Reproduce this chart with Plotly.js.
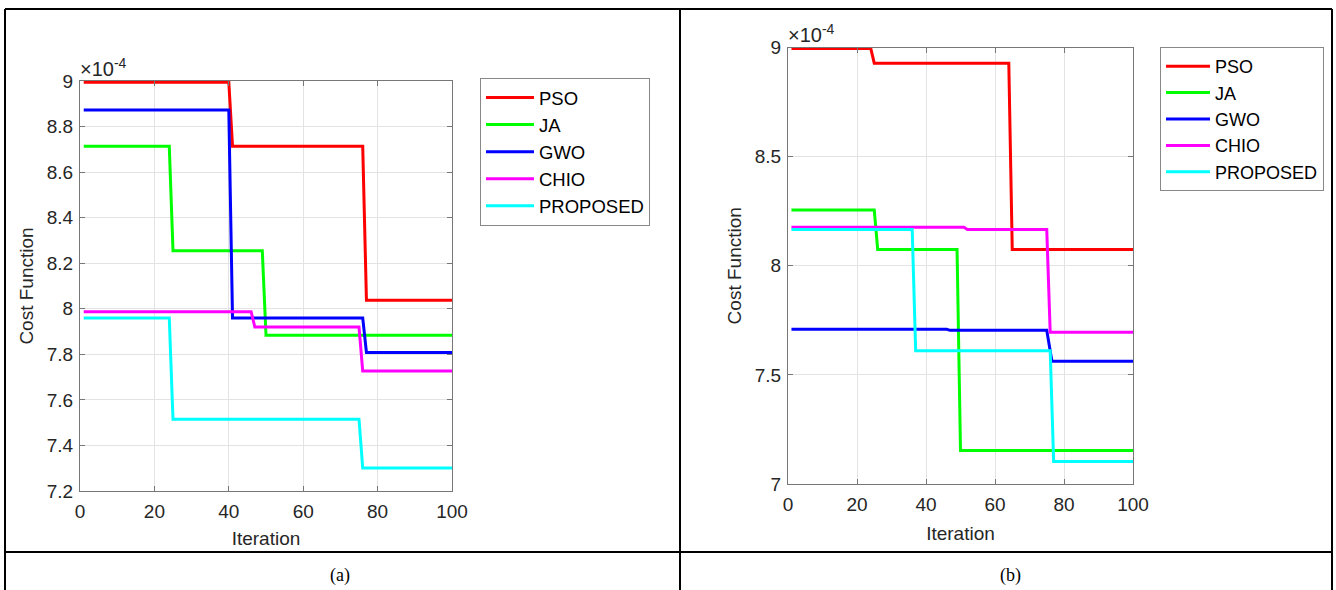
<!DOCTYPE html>
<html>
<head>
<meta charset="utf-8">
<script src="https://cdn.plot.ly/plotly-3.0.1.min.js"></script>
<style>html,body{margin:0;padding:0;background:#fff;}#chart{width:1336px;height:590px;}</style>
</head>
<body>
<div id="chart"></div>
<script>
// ---- Data (cost values in units of 1e-4) ----
const seriesNames = ["PSO", "JA", "GWO", "CHIO", "PROPOSED"];
const seriesColors = ["#ff0000", "#00ff00", "#0000ff", "#ff00ff", "#00ffff"];

// Panel (a): breakpoints (iteration) and cost values
const psoA_x = [1, 40, 41, 76, 77, 100];
const psoA_y = [8.995, 8.995, 8.713, 8.713, 8.037, 8.037];
const jaA_x = [1, 24, 25, 49, 50, 100];
const jaA_y = [8.713, 8.713, 8.255, 8.255, 7.884, 7.884];
const gwoA_x = [1, 40, 41, 76, 77, 100];
const gwoA_y = [8.873, 8.873, 7.960, 7.960, 7.808, 7.808];
const chioA_x = [1, 46, 47, 75, 76, 100];
const chioA_y = [7.987, 7.987, 7.920, 7.920, 7.727, 7.727];
const propA_x = [1, 24, 25, 75, 76, 100];
const propA_y = [7.960, 7.960, 7.515, 7.515, 7.301, 7.301];

// Panel (b)
const psoB_x = [1, 24, 25, 64, 65, 100];
const psoB_y = [8.995, 8.995, 8.928, 8.928, 8.075, 8.075];
const jaB_x = [1, 25, 26, 49, 50, 100];
const jaB_y = [8.255, 8.255, 8.075, 8.075, 7.153, 7.153];
const gwoB_x = [1, 46, 47, 75, 76.5, 100];
const gwoB_y = [7.709, 7.709, 7.704, 7.704, 7.562, 7.562];
const chioB_x = [1, 51, 52, 75, 76, 100];
const chioB_y = [8.176, 8.176, 8.166, 8.166, 7.695, 7.695];
const propB_x = [1, 36, 37, 76, 77, 100];
const propB_y = [8.166, 8.166, 7.611, 7.611, 7.103, 7.103];

// Ticks
const xTicks = [0, 20, 40, 60, 80, 100];
const yTicksA = [7.2, 7.4, 7.6, 7.8, 8, 8.2, 8.4, 8.6, 8.8, 9];
const yTicksB = [7, 7.5, 8, 8.5, 9];

const panelA = [[psoA_x, psoA_y], [jaA_x, jaA_y], [gwoA_x, gwoA_y], [chioA_x, chioA_y], [propA_x, propA_y]];
const panelB = [[psoB_x, psoB_y], [jaB_x, jaB_y], [gwoB_x, gwoB_y], [chioB_x, chioB_y], [propB_x, propB_y]];

const W = 1336, H = 590;
const px = v => v / W;
const py = v => 1 - v / H;

const traces = [];
panelA.forEach((s, i) => traces.push({
  x: s[0], y: s[1], type: "scatter", mode: "lines", name: seriesNames[i],
  line: {color: seriesColors[i], width: 3}, xaxis: "x", yaxis: "y", legend: "legend"
}));
panelB.forEach((s, i) => traces.push({
  x: s[0], y: s[1], type: "scatter", mode: "lines", name: seriesNames[i],
  line: {color: seriesColors[i], width: 3}, xaxis: "x2", yaxis: "y2", legend: "legend2"
}));

const SANS = "Liberation Sans, Arial, sans-serif";
function makeAxis(extra) {
  return Object.assign({
    showline: true, linecolor: "#777777", linewidth: 1, mirror: "ticks",
    ticks: "inside", ticklen: 5, tickcolor: "#777777",
    showgrid: true, gridcolor: "#e3e3e3", gridwidth: 1,
    zeroline: false, fixedrange: true,
    tickfont: {family: SANS, size: 19, color: "#262626"}
  }, extra);
}

const legendCommon = {
  xanchor: "left", yanchor: "top", bgcolor: "#ffffff",
  bordercolor: "#888888", borderwidth: 1,
  tracegroupgap: 0
};

const borderLine = {type: "line", xref: "paper", yref: "paper", line: {color: "#000", width: 2}};
const shapes = [
  Object.assign({}, borderLine, {x0: px(5), x1: px(1332), y0: py(9), y1: py(9)}),
  Object.assign({}, borderLine, {x0: px(5), x1: px(5), y0: py(9), y1: py(590)}),
  Object.assign({}, borderLine, {x0: px(1332), x1: px(1332), y0: py(9), y1: py(590)}),
  Object.assign({}, borderLine, {x0: px(680), x1: px(680), y0: py(9), y1: py(590)}),
  Object.assign({}, borderLine, {x0: px(5), x1: px(1332), y0: py(552), y1: py(552)})
];

const annFont = {family: SANS, size: 20, color: "#262626"};
const SERIF = "Liberation Serif, Times New Roman, serif";
const annotations = [
  {xref: "paper", yref: "paper", x: px(78), y: py(68), xanchor: "left", yanchor: "middle",
   text: "×10<sup>-4</sup>", showarrow: false, font: annFont},
  {xref: "paper", yref: "paper", x: px(786), y: py(34), xanchor: "left", yanchor: "middle",
   text: "×10<sup>-4</sup>", showarrow: false, font: annFont},
  {xref: "paper", yref: "paper", x: px(340), y: py(575), xanchor: "center", yanchor: "middle",
   text: "(a)", showarrow: false, font: {family: SERIF, size: 18, color: "#000"}},
  {xref: "paper", yref: "paper", x: px(1010), y: py(575), xanchor: "center", yanchor: "middle",
   text: "(b)", showarrow: false, font: {family: SERIF, size: 18, color: "#000"}}
];

const titleFont = {family: SANS, size: 19, color: "#262626"};

const layout = {
  width: W, height: H, autosize: false,
  margin: {l: 0, r: 0, t: 0, b: 0},
  paper_bgcolor: "#ffffff", plot_bgcolor: "#ffffff",
  font: {family: SANS, size: 19, color: "#262626"},
  showlegend: true,
  xaxis: makeAxis({
    domain: [px(80), px(452)], range: [0, 100], tickvals: xTicks, ticktext: xTicks.map(String),
    ticklabelstandoff: 3,
    anchor: "y", title: {text: "Iteration", font: titleFont, standoff: 10}
  }),
  yaxis: makeAxis({
    domain: [py(491), py(81)], range: [7.2, 9], tickvals: yTicksA, ticktext: yTicksA.map(String),
    ticklabelstandoff: 2,
    anchor: "x", title: {text: "Cost Function", font: titleFont, standoff: 8}
  }),
  xaxis2: makeAxis({
    domain: [px(788), px(1133)], range: [0, 100], tickvals: xTicks, ticktext: xTicks.map(String),
    ticklabelstandoff: 3,
    anchor: "y2", title: {text: "Iteration", font: titleFont, standoff: 12}
  }),
  yaxis2: makeAxis({
    domain: [py(484), py(47.5)], range: [7, 9], tickvals: yTicksB, ticktext: yTicksB.map(String),
    ticklabelstandoff: 2,
    anchor: "x2", title: {text: "Cost Function", font: titleFont, standoff: 8}
  }),
  legend: Object.assign({}, legendCommon, {x: px(480), y: py(78), itemwidth: 48,
    font: {family: SANS, size: 18.5, color: "#000"}}),
  legend2: Object.assign({}, legendCommon, {x: px(1160), y: py(47), itemwidth: 44,
    font: {family: SANS, size: 18, color: "#000"}}),
  shapes: shapes,
  annotations: annotations
};

Plotly.newPlot("chart", traces, layout, {displayModeBar: false, staticPlot: true});
</script>
</body>
</html>
